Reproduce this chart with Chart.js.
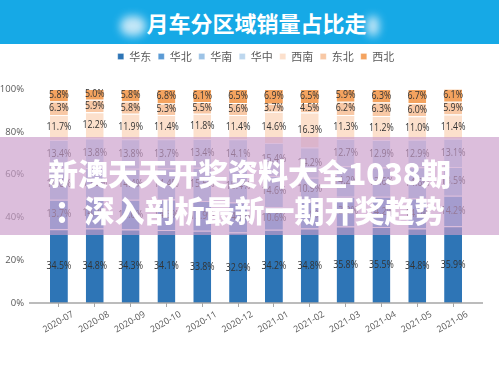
<!DOCTYPE html>
<html>
<head>
<meta charset="utf-8">
<script src="https://cdn.jsdelivr.net/npm/chart.js@4.4.1/dist/chart.umd.min.js"></script>
<style>
  html, body { margin: 0; padding: 0; background: #fff; }
  #wrap { position: relative; width: 499px; height: 374px; overflow: hidden; }
  #chart { position: absolute; left: 0; top: 0; }
  #banner {
    position: absolute; left: 0; top: 0; width: 499px; height: 44px;
    background: #16a9e6; text-align: center;
    font-family: "Noto Sans CJK SC", sans-serif; font-weight: 700;
    font-size: 22px; color: #fff; line-height: 44px;
  }
  #banner .blur {
    display: inline-block; width: 26px; height: 20px; background: #eef6fb;
    border-radius: 10px; filter: blur(4px); vertical-align: middle; opacity: .8;
  }
  #band {
    position: absolute; left: 0; top: 137px; width: 499px; height: 98px;
    background: rgba(202, 157, 202, 0.66);
    font-family: "Noto Sans CJK SC", sans-serif; font-weight: 900;
    color: #fff; font-size: 30px; text-align: center; line-height: 37px;
    padding-top: 17px; box-sizing: border-box;
  }
</style>
</head>
<body>
<div id="wrap">
  <canvas id="chart" width="499" height="374"></canvas>
  <div id="banner"><span class="blur"></span>月车分区域销量占比走<span class="blur" style="width:12px"></span></div>
  <div id="band">新澳天天开奖资料大全1038期<br>：深入剖析最新一期开奖趋势</div>
</div>
<script>
// 月份
const months = ['2020-07', '2020-08', '2020-09', '2020-10', '2020-11', '2020-12',
                '2021-01', '2021-02', '2021-03', '2021-04', '2021-05', '2021-06'];

// 各区域占比（%）
const huadong = [34.5, 34.8, 34.3, 34.1, 33.8, 32.9, 34.2, 34.8, 35.8, 35.5, 34.8, 35.9];
const huabei  = [13.7, 14.4, 14.0, 14.3, 13.9, 14.1, 10.6, 12.8, 13.9, 14.2, 14.0, 14.2];
const huanan  = [14.6, 13.9, 14.4, 14.4, 15.5, 15.4, 14.6, 10.9, 14.2, 13.6, 14.6, 13.5];
const huazhong = [13.4, 13.8, 13.8, 13.7, 13.4, 14.1, 15.4, 14.2, 12.7, 12.9, 12.9, 13.1];
const xinan   = [11.7, 12.2, 11.9, 11.4, 11.8, 11.4, 14.6, 16.3, 11.3, 11.2, 11.0, 11.4];
const dongbei = [6.3, 5.9, 5.8, 5.3, 5.5, 5.6, 3.7, 4.5, 6.2, 6.3, 6.0, 5.9];
const xibei   = [5.8, 5.0, 5.8, 6.8, 6.1, 6.5, 6.9, 6.5, 5.9, 6.3, 6.7, 6.1];

// y轴刻度
const yTicks = [0, 20, 40, 60, 80, 100];

const series = [
    { label: '华东', data: huadong, color: '#2e75b6' },
    { label: '华北', data: huabei, color: '#5b9bd5' },
    { label: '华南', data: huanan, color: '#9dc3e6' },
    { label: '华中', data: huazhong, color: '#bdd7ee' },
    { label: '西南', data: xinan, color: '#fce0cc' },
    { label: '东北', data: dongbei, color: '#f8c8a5' },
    { label: '西北', data: xibei, color: '#f4a35f' }
];

// 柱内百分比标签
const valueLabels = {
    id: 'valueLabels',
    afterDatasetsDraw(chart) {
        const ctx = chart.ctx;
        ctx.save();
        ctx.font = '10.5px "Open Sans", sans-serif';
        ctx.fillStyle = '#333333';
        ctx.textAlign = 'center';
        ctx.textBaseline = 'middle';
        chart.data.datasets.forEach((ds, i) => {
            chart.getDatasetMeta(i).data.forEach((bar, j) => {
                ctx.save();
                ctx.translate(bar.x, (bar.y + bar.base) / 2);
                ctx.scale(0.84, 1);
                ctx.fillText(ds.data[j].toFixed(1) + '%', 0, 0);
                ctx.restore();
            });
        });
        ctx.restore();
    }
};

// 横轴线（比绘图区略长）
const axisLine = {
    id: 'axisLine',
    afterDatasetsDraw(chart) {
        const ctx = chart.ctx;
        const y = chart.scales.y.getPixelForValue(0);
        ctx.save();
        ctx.strokeStyle = '#a6a6a6';
        ctx.lineWidth = 1.5;
        ctx.beginPath();
        ctx.moveTo(29, y);
        ctx.lineTo(483, y);
        ctx.stroke();
        ctx.restore();
    }
};

// 图例高度与水平位置
const legendSpace = {
    id: 'legendSpace',
    beforeInit(chart) {
        const fit = chart.legend.fit;
        chart.legend.fit = function () {
            fit.bind(chart.legend)();
            this.height = 45;
        };
    },
    afterLayout(chart) {
        const lg = chart.legend;
        const shift = 256 - (lg.left + lg.right) / 2;
        lg.left += shift;
        lg.right += shift;
    }
};

const ctx = document.getElementById('chart').getContext('2d');
new Chart(ctx, {
    type: 'bar',
    data: {
        labels: months,
        datasets: series.map(s => ({
            label: s.label,
            data: s.data,
            backgroundColor: s.color,
            borderColor: '#ffffff',
            borderWidth: { top: 1, left: 0, right: 0, bottom: 0 },
            borderSkipped: false,
            categoryPercentage: 1,
            barPercentage: 0.5
        }))
    },
    options: {
        responsive: false,
        animation: false,
        layout: { padding: { top: 44, left: 0, right: 28, bottom: 0 } },
        plugins: {
            tooltip: { enabled: false },
            legend: {
                position: 'top',
                labels: {
                    boxWidth: 6,
                    boxHeight: 6,
                    padding: 7,
                    color: '#595959',
                    font: { family: '"Noto Sans CJK SC", sans-serif', size: 11 }
                }
            }
        },
        scales: {
            x: {
                stacked: true,
                grid: { display: true, drawOnChartArea: false, drawTicks: true, tickLength: 4, offset: false, color: '#a6a6a6' },
                border: { display: false },
                ticks: {
                    minRotation: 30,
                    maxRotation: 30,
                    labelOffset: 14,
                    padding: 2,
                    color: '#595959',
                    font: { family: '"Open Sans", sans-serif', size: 9 }
                },
                afterFit(scale) { scale.height = 71; }
            },
            y: {
                stacked: true,
                min: 0,
                max: 100,
                grid: { display: false, drawTicks: false },
                border: { display: false },
                afterBuildTicks(scale) { scale.ticks = yTicks.map(v => ({ value: v })); },
                ticks: {
                    padding: 17,
                    color: '#595959',
                    font: { family: '"Open Sans", sans-serif', size: 9.5 },
                    callback: v => v + '%'
                },
                afterFit(scale) { scale.width = 41; }
            }
        }
    },
    plugins: [valueLabels, axisLine, legendSpace]
});
</script>
</body>
</html>
